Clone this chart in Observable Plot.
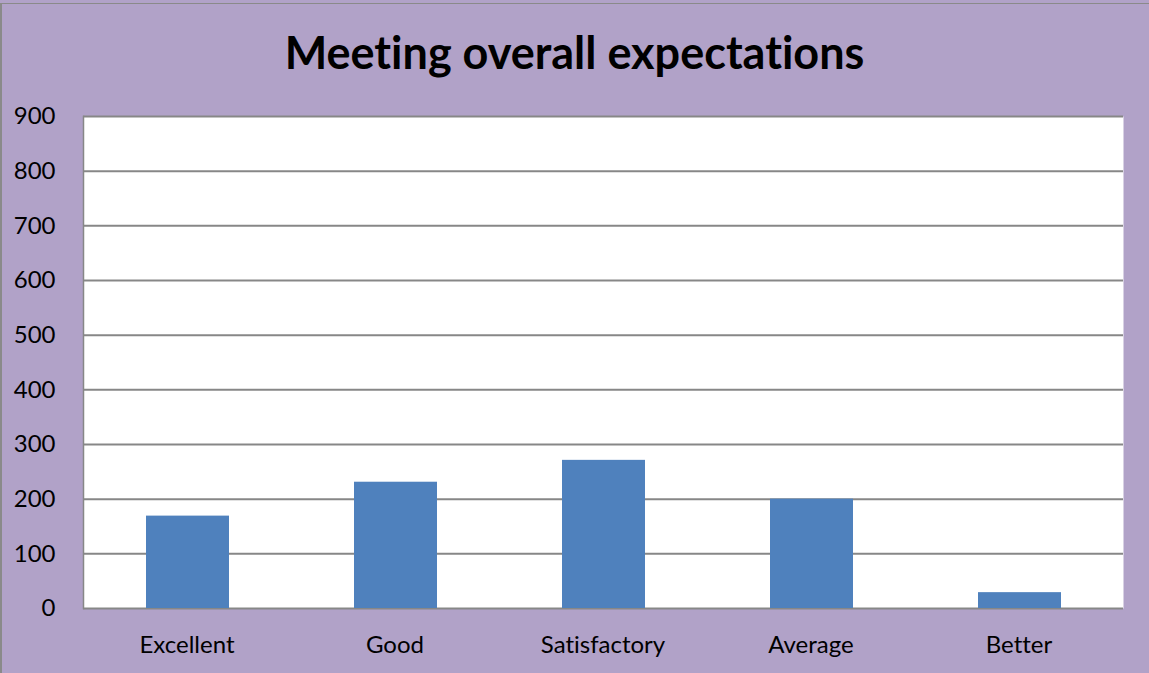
<!DOCTYPE html>
<html>
<head>
<meta charset="utf-8">
<script src="https://cdn.jsdelivr.net/npm/d3@7"></script>
<script src="https://cdn.jsdelivr.net/npm/@observablehq/plot@0.6"></script>
<style>
  html, body { margin: 0; padding: 0; }
  body { width: 1149px; height: 673px; background: #B1A2C8; overflow: hidden; position: relative; font-family: Lato, "Open Sans", sans-serif; font-variant-ligatures: none; }
  #title { height: 100px; box-sizing: border-box; padding-top: 30px; text-align: center; font-weight: bold; font-size: 45px; line-height: 1; color: #000; font-variant-ligatures: none; }
  #chart svg { display: block; font-variant-ligatures: none; }
  .edge-top { position: absolute; left: 0; top: 3px; width: 100%; height: 1px; background: #8a8a8a; }
  .edge-left { position: absolute; left: 0; top: 3px; width: 2px; height: 100%; background: #8a8a8a; }
</style>
</head>
<body>
<div id="title">Meeting overall expectations</div>
<div id="chart"></div>
<div class="edge-top"></div>
<div class="edge-left"></div>
<script>
const categories = ["Excellent", "Good", "Satisfactory", "Average", "Better"];
const values = [169, 231, 271, 200, 29];
const yTicks = [0, 100, 200, 300, 400, 500, 600, 700, 800, 900];

const data = categories.map((c, i) => ({category: c, value: values[i]}));

const chart = Plot.plot({
  width: 1149,
  height: 573,
  marginLeft: 83,
  marginRight: 26,
  marginTop: 16,
  marginBottom: 65,
  style: {background: "transparent", fontFamily: "Lato, 'Open Sans', sans-serif", fontSize: "24px", color: "#000"},
  x: {domain: categories, paddingInner: 0.6, paddingOuter: 0.3, label: null},
  y: {domain: [0, 900], ticks: yTicks, label: null},
  marks: [
    Plot.frame({fill: "white", stroke: null}),
    Plot.gridY(yTicks, {stroke: "#878787", strokeOpacity: 1, strokeWidth: 2}),
    Plot.frame({anchor: "left", stroke: "#878787", strokeWidth: 1.5}),
    Plot.barY(data, {x: "category", y: "value", fill: "#4F81BD", dx: 1}),
    Plot.axisY(yTicks, {tickSize: 0, tickPadding: 28, fontSize: 24, fill: "#000"}),
    Plot.axisX({tickSize: 0, tickPadding: 27, fontSize: 24, fill: "#000"})
  ]
});
document.getElementById("chart").appendChild(chart);
</script>
</body>
</html>
